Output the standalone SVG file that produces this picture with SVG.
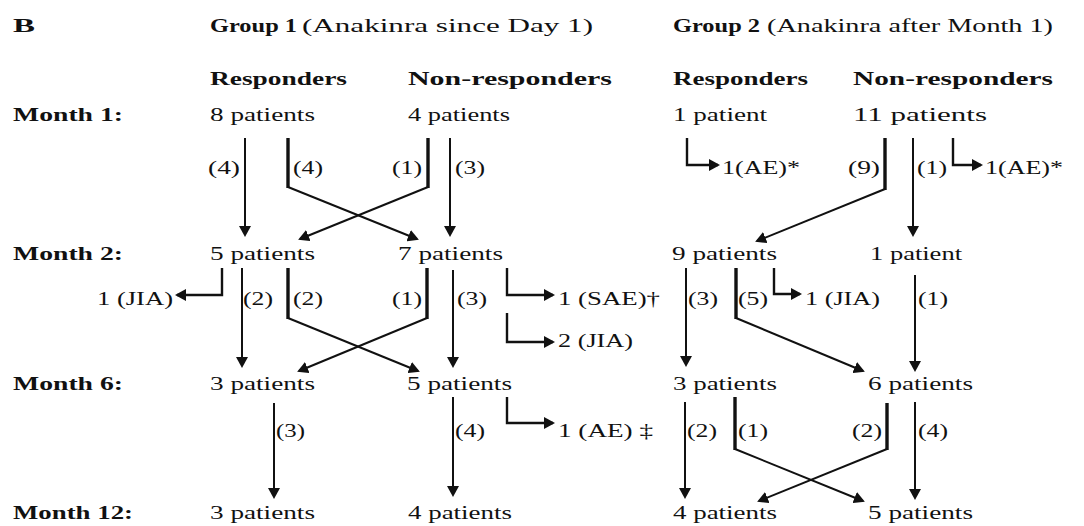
<svg xmlns="http://www.w3.org/2000/svg" width="1084" height="526" viewBox="0 0 1084 526">
<style>
text{font-family:"Liberation Serif","Times New Roman",serif;font-size:18px;fill:#111}
.b{font-weight:bold}
.ln{stroke:#111;stroke-width:2;fill:none}
.tk{stroke:#111;stroke-width:3.4;fill:none}
.ar{stroke:#111;stroke-width:2;fill:none;marker-end:url(#ah)}
</style>
<defs>
<marker id="ah" viewBox="0 0 11 12" refX="9" refY="6" markerWidth="11" markerHeight="12" markerUnits="userSpaceOnUse" orient="auto">
<path d="M0,0 L11,6 L0,12 z" fill="#111"/>
</marker>
</defs>
<rect width="1084" height="526" fill="#fff"/>
<g id="headers">
<text class="b" x="13" y="32" textLength="22" lengthAdjust="spacingAndGlyphs" style="font-size:19px">B</text>
<text class="b" x="210" y="32" textLength="87" lengthAdjust="spacingAndGlyphs">Group 1</text>
<text x="302" y="32" textLength="291" lengthAdjust="spacingAndGlyphs">(Anakinra since Day 1)</text>
<text class="b" x="673" y="32" textLength="87" lengthAdjust="spacingAndGlyphs">Group 2</text>
<text x="767" y="32" textLength="286" lengthAdjust="spacingAndGlyphs">(Anakinra after Month 1)</text>
<text class="b" x="210" y="85" textLength="137" lengthAdjust="spacingAndGlyphs">Responders</text>
<text class="b" x="408" y="85" textLength="204" lengthAdjust="spacingAndGlyphs">Non-responders</text>
<text class="b" x="673" y="85" textLength="135" lengthAdjust="spacingAndGlyphs">Responders</text>
<text class="b" x="853" y="85" textLength="200" lengthAdjust="spacingAndGlyphs">Non-responders</text>
</g>
<g id="row-labels">
<text class="b" x="13" y="121" textLength="110" lengthAdjust="spacingAndGlyphs">Month 1:</text>
<text class="b" x="13" y="260" textLength="110" lengthAdjust="spacingAndGlyphs">Month 2:</text>
<text class="b" x="13" y="390" textLength="110" lengthAdjust="spacingAndGlyphs">Month 6:</text>
<text class="b" x="13" y="519" textLength="120" lengthAdjust="spacingAndGlyphs">Month 12:</text>
</g>
<g id="g1-m1-r"><text x="210" y="121" textLength="105" lengthAdjust="spacingAndGlyphs">8 patients</text></g>
<g id="g1-m1-n"><text x="408" y="121" textLength="102" lengthAdjust="spacingAndGlyphs">4 patients</text></g>
<g id="g2-m1-r"><text x="673" y="121" textLength="94" lengthAdjust="spacingAndGlyphs">1 patient</text></g>
<g id="g2-m1-n"><text x="853" y="121" textLength="134" lengthAdjust="spacingAndGlyphs">11 patients</text></g>
<g id="g1-m2-r"><text x="210" y="260" textLength="105" lengthAdjust="spacingAndGlyphs">5 patients</text></g>
<g id="g1-m2-n"><text x="398" y="260" textLength="105" lengthAdjust="spacingAndGlyphs">7 patients</text></g>
<g id="g2-m2-r"><text x="672" y="260" textLength="105" lengthAdjust="spacingAndGlyphs">9 patients</text></g>
<g id="g2-m2-n"><text x="870" y="260" textLength="92" lengthAdjust="spacingAndGlyphs">1 patient</text></g>
<g id="g1-m6-r"><text x="210" y="390" textLength="105" lengthAdjust="spacingAndGlyphs">3 patients</text></g>
<g id="g1-m6-n"><text x="407" y="390" textLength="105" lengthAdjust="spacingAndGlyphs">5 patients</text></g>
<g id="g2-m6-r"><text x="673" y="390" textLength="104" lengthAdjust="spacingAndGlyphs">3 patients</text></g>
<g id="g2-m6-n"><text x="868" y="390" textLength="105" lengthAdjust="spacingAndGlyphs">6 patients</text></g>
<g id="g1-m12-r"><text x="210" y="519" textLength="105" lengthAdjust="spacingAndGlyphs">3 patients</text></g>
<g id="g1-m12-n"><text x="408" y="519" textLength="104" lengthAdjust="spacingAndGlyphs">4 patients</text></g>
<g id="g2-m12-r"><text x="673" y="519" textLength="104" lengthAdjust="spacingAndGlyphs">4 patients</text></g>
<g id="g2-m12-n"><text x="868" y="519" textLength="105" lengthAdjust="spacingAndGlyphs">5 patients</text></g>
<g id="connectors">
<!-- Group 1, Month 1 to Month 2 -->
<line class="ar" x1="245" y1="138" x2="245" y2="235"/>
<line class="tk" x1="288" y1="138" x2="288" y2="188"/>
<line class="ar" x1="288" y1="187" x2="417" y2="239"/>
<line class="tk" x1="428" y1="138" x2="428" y2="188"/>
<line class="ar" x1="428" y1="187" x2="300" y2="239"/>
<line class="ar" x1="450" y1="138" x2="450" y2="235"/>
<!-- Group 1, Month 2 to Month 6 -->
<path class="ar" d="M222,268 V295 H177" style="stroke-width:2.4"/>
<line class="ar" x1="242" y1="268" x2="242" y2="366"/>
<line class="tk" x1="288" y1="268" x2="288" y2="319"/>
<line class="ar" x1="288" y1="318" x2="418" y2="371"/>
<line class="tk" x1="427" y1="268" x2="427" y2="319"/>
<line class="ar" x1="427" y1="318" x2="299" y2="371"/>
<line class="ar" x1="453" y1="270" x2="453" y2="366"/>
<path class="ar" d="M507,268 V295 H553" style="stroke-width:2.4"/>
<path class="ar" d="M507,313 V342 H553" style="stroke-width:2.4"/>
<!-- Group 1, Month 6 to Month 12 -->
<line class="ar" x1="274" y1="403" x2="274" y2="497"/>
<line class="ar" x1="453" y1="397" x2="453" y2="495"/>
<path class="ar" d="M507,397 V423 H553" style="stroke-width:2.4"/>
<!-- Group 2, Month 1 to Month 2 -->
<path class="ar" d="M687,138 V165 H718" style="stroke-width:2.4"/>
<line class="tk" x1="885" y1="138" x2="885" y2="190"/>
<line class="ar" x1="885" y1="189" x2="757" y2="241"/>
<line class="ar" x1="913" y1="138" x2="913" y2="235"/>
<path class="ar" d="M953,138 V165 H981" style="stroke-width:2.4"/>
<!-- Group 2, Month 2 to Month 6 -->
<line class="ar" x1="686" y1="268" x2="686" y2="365"/>
<line class="tk" x1="736" y1="268" x2="736" y2="319"/>
<line class="ar" x1="736" y1="318" x2="863" y2="371"/>
<path class="ar" d="M774,268 V294 H800" style="stroke-width:2.4"/>
<line class="ar" x1="915" y1="275" x2="915" y2="370"/>
<!-- Group 2, Month 6 to Month 12 -->
<line class="ar" x1="685" y1="402" x2="685" y2="497"/>
<line class="tk" x1="735" y1="397" x2="735" y2="450"/>
<line class="ar" x1="735" y1="449" x2="863" y2="501"/>
<line class="tk" x1="887" y1="403" x2="887" y2="450"/>
<line class="ar" x1="887" y1="449" x2="759" y2="501"/>
<line class="ar" x1="915" y1="402" x2="915" y2="498"/>
</g>
<g id="connector-labels">
<text x="208" y="174" textLength="32" lengthAdjust="spacingAndGlyphs">(4)</text>
<text x="293" y="174" textLength="30" lengthAdjust="spacingAndGlyphs">(4)</text>
<text x="392" y="174" textLength="30" lengthAdjust="spacingAndGlyphs">(1)</text>
<text x="455" y="174" textLength="30" lengthAdjust="spacingAndGlyphs">(3)</text>
<text x="722" y="174" textLength="78" lengthAdjust="spacingAndGlyphs">1(AE)*</text>
<text x="848" y="174" textLength="32" lengthAdjust="spacingAndGlyphs">(9)</text>
<text x="917" y="174" textLength="30" lengthAdjust="spacingAndGlyphs">(1)</text>
<text x="985" y="174" textLength="78" lengthAdjust="spacingAndGlyphs">1(AE)*</text>
<text x="97" y="305" textLength="76" lengthAdjust="spacingAndGlyphs">1 (JIA)</text>
<text x="243" y="305" textLength="30" lengthAdjust="spacingAndGlyphs">(2)</text>
<text x="293" y="305" textLength="30" lengthAdjust="spacingAndGlyphs">(2)</text>
<text x="392" y="305" textLength="30" lengthAdjust="spacingAndGlyphs">(1)</text>
<text x="457" y="305" textLength="30" lengthAdjust="spacingAndGlyphs">(3)</text>
<text x="558" y="305" textLength="102" lengthAdjust="spacingAndGlyphs">1 (SAE)†</text>
<text x="558" y="347" textLength="75" lengthAdjust="spacingAndGlyphs">2 (JIA)</text>
<text x="688" y="305" textLength="30" lengthAdjust="spacingAndGlyphs">(3)</text>
<text x="738" y="305" textLength="30" lengthAdjust="spacingAndGlyphs">(5)</text>
<text x="805" y="305" textLength="75" lengthAdjust="spacingAndGlyphs">1 (JIA)</text>
<text x="918" y="305" textLength="30" lengthAdjust="spacingAndGlyphs">(1)</text>
<text x="276" y="437" textLength="29" lengthAdjust="spacingAndGlyphs">(3)</text>
<text x="455" y="437" textLength="30" lengthAdjust="spacingAndGlyphs">(4)</text>
<text x="558" y="437" textLength="95" lengthAdjust="spacingAndGlyphs">1 (AE) ‡</text>
<text x="687" y="437" textLength="30" lengthAdjust="spacingAndGlyphs">(2)</text>
<text x="738" y="437" textLength="30" lengthAdjust="spacingAndGlyphs">(1)</text>
<text x="852" y="437" textLength="30" lengthAdjust="spacingAndGlyphs">(2)</text>
<text x="918" y="437" textLength="30" lengthAdjust="spacingAndGlyphs">(4)</text>
</g>
</svg>
